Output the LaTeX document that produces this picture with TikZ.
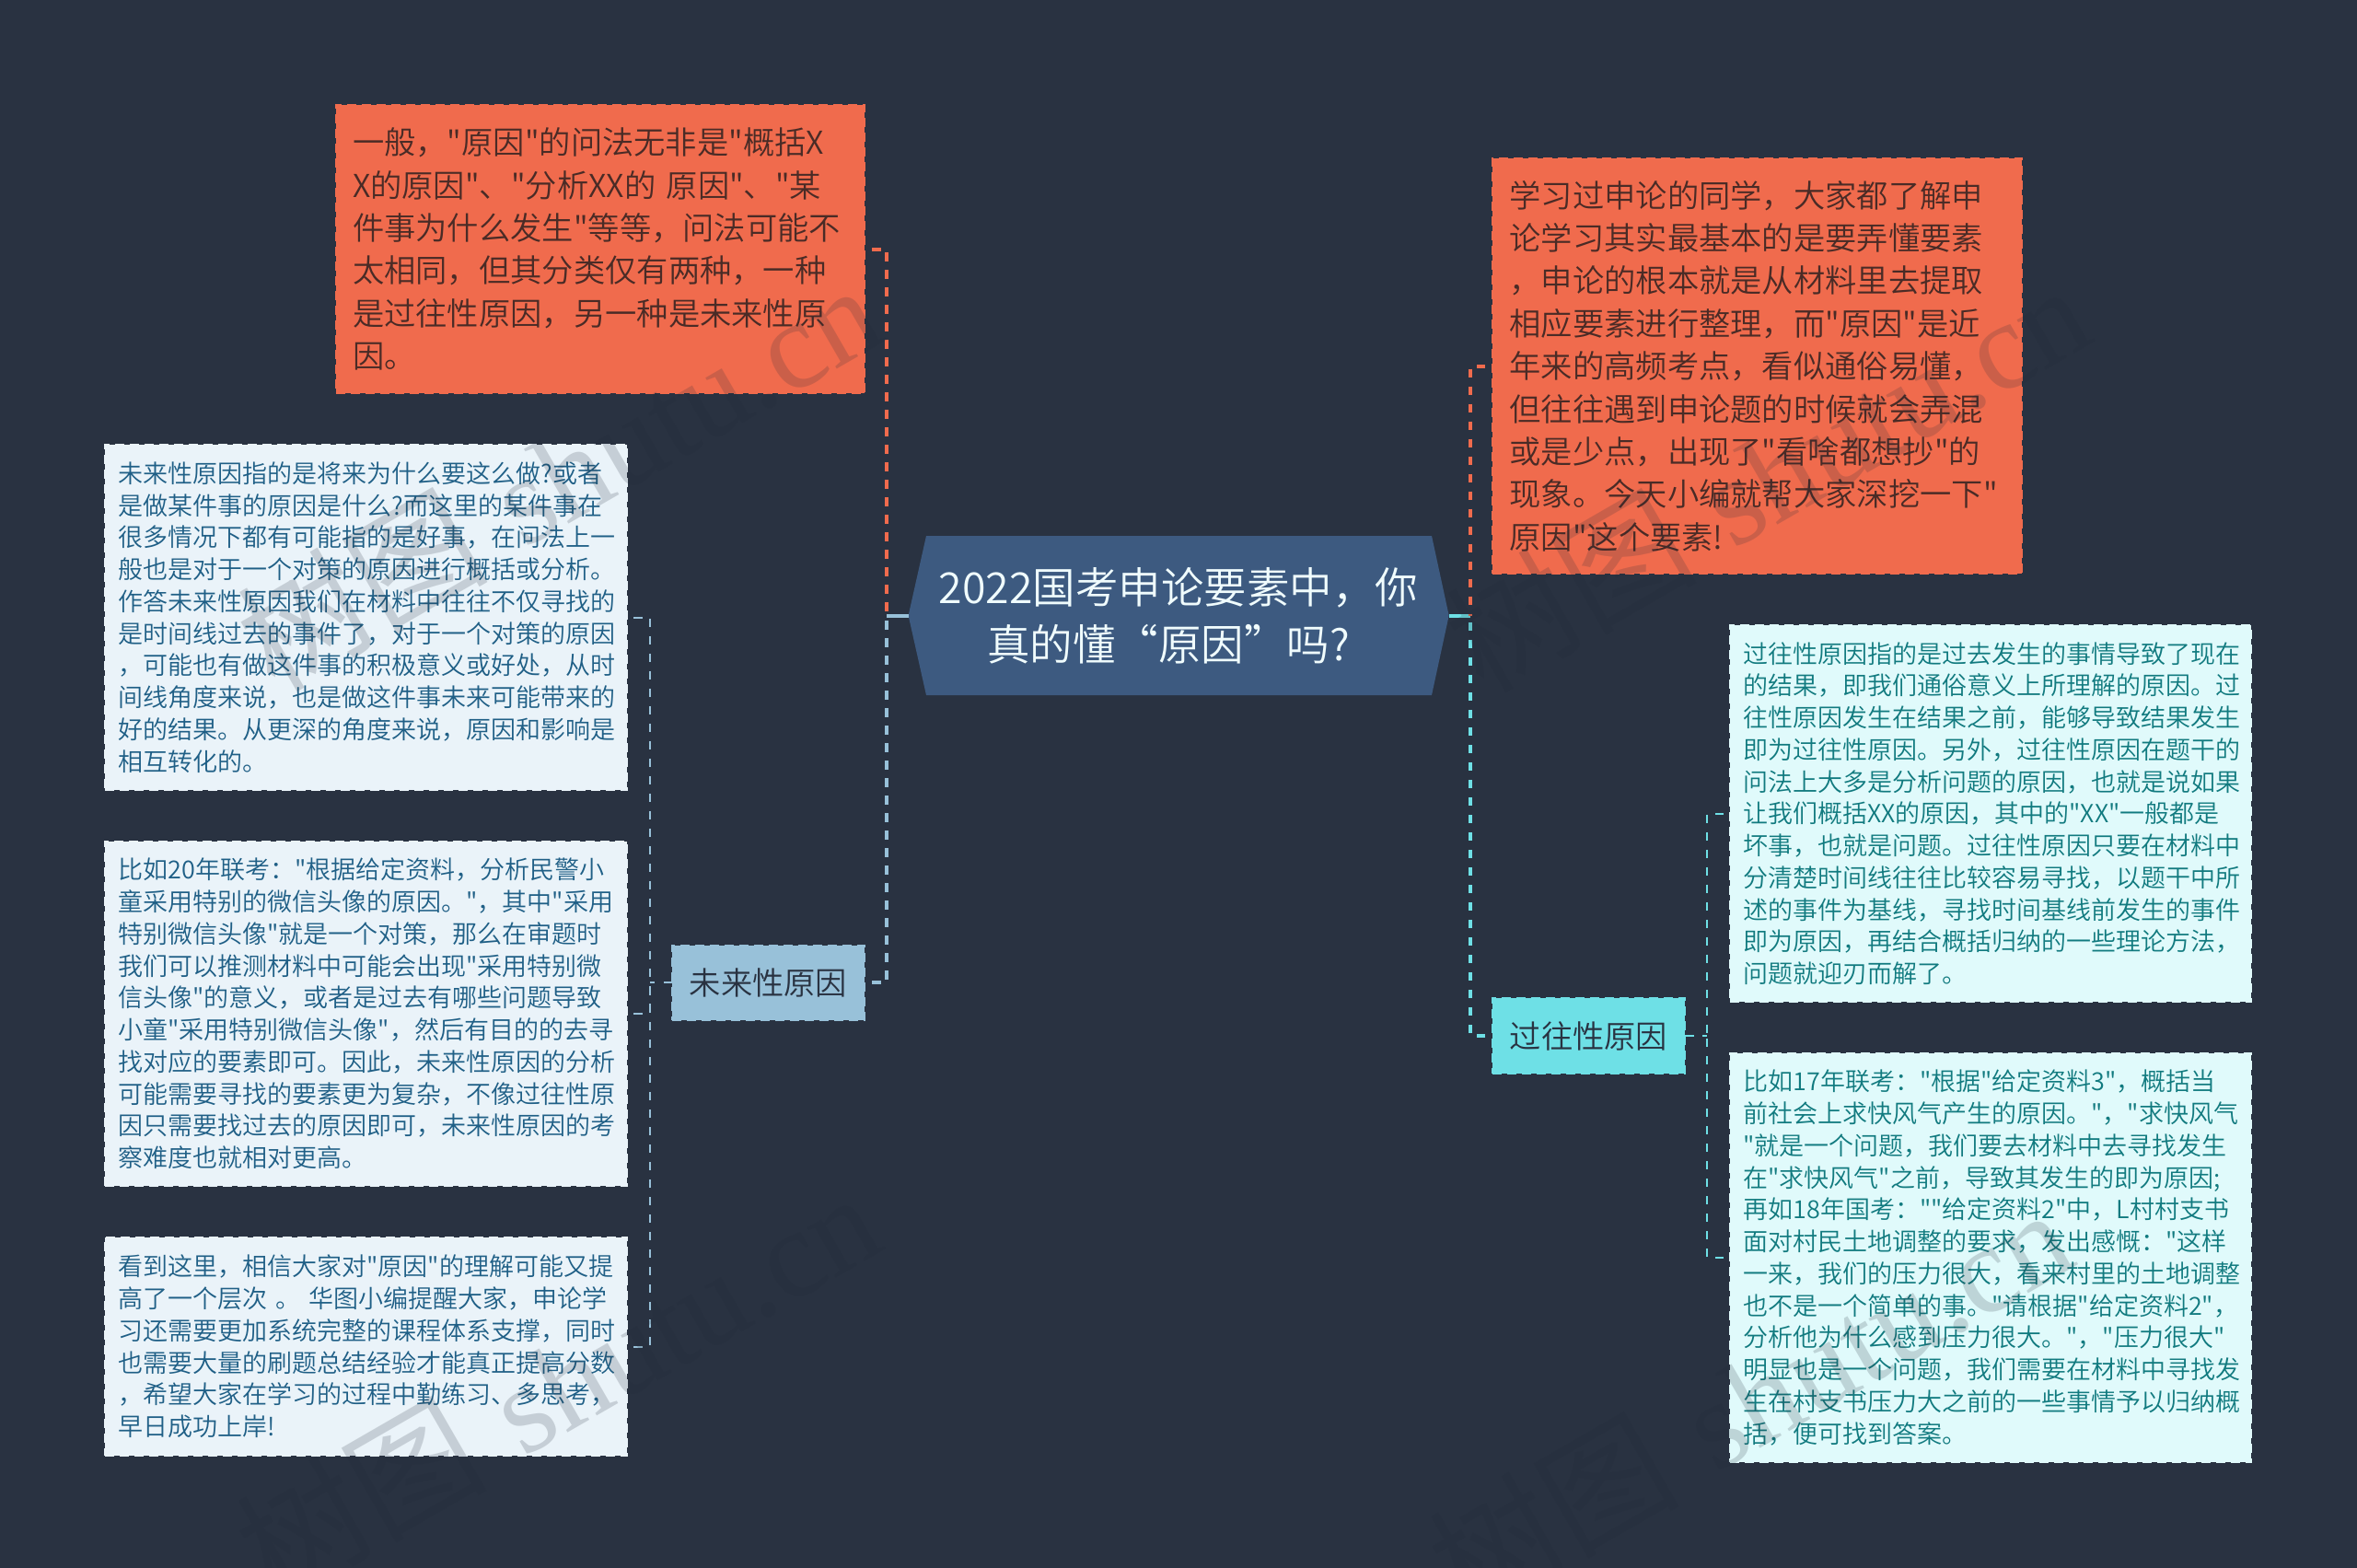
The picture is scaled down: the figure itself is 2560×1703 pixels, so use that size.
\documentclass[tikz,border=0pt]{standalone}
\usepackage{fontspec}
\newfontfamily\cjk{Noto Sans CJK SC DemiLight}
\newfontfamily\wmcjk{Noto Sans CJK SC}
\newfontfamily\wmlatin{Liberation Serif}
\definecolor{bgc}{HTML}{293241}
\definecolor{rootc}{HTML}{3D5A80}
\definecolor{orangec}{HTML}{F06B4D}
\definecolor{bluec}{HTML}{98C1D9}
\definecolor{cyanc}{HTML}{6EE0E6}
\definecolor{leafbc}{HTML}{EAF3F9}
\definecolor{leafcc}{HTML}{E0FAFB}
\definecolor{orangetxt}{HTML}{4A2B26}
\definecolor{bluetxt}{HTML}{1F5F86}
\definecolor{cyantxt}{HTML}{117A7F}
\definecolor{subtxt}{HTML}{293241}
\definecolor{roottxt}{HTML}{F0FCFD}
\definecolor{wmc}{HTML}{222A38}
\newcommand{\bodyfont}[2]{\cjk\fontsize{#1}{#2}\selectfont\lineskiplimit=-100pt\relax}
\tikzset{
  boxbase/.style={rectangle,draw,line width=2pt,dash pattern=on 10pt off 6pt,inner sep=0pt,outer sep=0pt,align=left},
  bigbox/.style={boxbase,fill=orangec,draw=orangec,text=orangetxt,font=\bodyfont{34.3}{46.4}},
  leafb/.style={boxbase,fill=leafbc,draw=leafbc,text=bluetxt,font=\bodyfont{27}{34.75}},
  leafc/.style={boxbase,fill=leafcc,draw=leafcc,text=cyantxt,font=\bodyfont{27}{34.75}},
  subb/.style={boxbase,fill=bluec,draw=bluec,text=subtxt,align=center,font=\bodyfont{34.3}{46.4}},
  subc/.style={boxbase,fill=cyanc,draw=cyanc,text=subtxt,align=center,font=\bodyfont{34.3}{46.4}},
  rootnode/.style={rectangle,inner sep=0pt,outer sep=0pt,align=center,text=roottxt,font=\bodyfont{46.5}{62}},
  mainline/.style={line width=4pt,dash pattern=on 9.5pt off 9.5pt,dash phase=11pt},
  rootstub/.style={line width=4pt},
  thinline/.style={line width=2pt,dash pattern=on 9.5pt off 9.5pt,dash phase=12pt},
  subline/.style={line width=2pt,dash pattern=on 9.5pt off 9.5pt},
  wmark/.style={inner sep=0pt,text=wmc,text opacity=0.18,rotate=30,font=\fontsize{136}{136}\selectfont},
}
\begin{document}
\begin{tikzpicture}[x=1pt,y=-1pt]
\useasboundingbox (0,0) rectangle (2560,1703);
\fill[bgc] (0,0) rectangle (2560,1703);

\coordinate (jl) at (962.5,668.5);
\coordinate (jr) at (1597,668.5);
\coordinate (jll) at (705.6,1067);
\coordinate (jrr) at (1854,1125);

\fill[rootc] (986.6,668.5) -- (1006,582) -- (1555,582) -- (1573.7,668.5) -- (1555,755) -- (1006,755) -- cycle;
\node[rootnode,minimum width=587pt,minimum height=173pt] (root) at (1280.15,668.5) {2022国考申论要素中，你\\真的懂“原因”吗?\hspace*{22pt}};

\node[bigbox,minimum width=574.5pt,minimum height=313pt,text width=537.5pt] (A) at (651.75,270.5) {一般，"原因"的问法无非是"概括X\\
X的原因"、"分析XX的~原因"、"某\\
件事为什么发生"等等，问法可能不\\
太相同，但其分类仅有两种，一种\\
是过往性原因，另一种是未来性原\\
因。};

\node[bigbox,minimum width=575pt,minimum height=451pt,text width=538pt] (B) at (1908.5,397.5) {学习过申论的同学，大家都了解申\\
论学习其实最基本的是要弄懂要素\\
，申论的根本就是从材料里去提取\\
相应要素进行整理，而"原因"是近\\
年来的高频考点，看似通俗易懂，\\
但往往遇到申论题的时候就会弄混\\
或是少点，出现了"看啥都想抄"的\\
现象。今天小编就帮大家深挖一下"\\
原因"这个要素!};

\node[leafb,minimum width=567pt,minimum height=375pt,text width=538pt] (E) at (397.5,670.5) {未来性原因指的是将来为什么要这么做?或者\\
是做某件事的原因是什么?而这里的某件事在\\
很多情况下都有可能指的是好事，在问法上一\\
般也是对于一个对策的原因进行概括或分析。\\
作答未来性原因我们在材料中往往不仅寻找的\\
是时间线过去的事件了，对于一个对策的原因\\
，可能也有做这件事的积极意义或好处，从时\\
间线角度来说，也是做这件事未来可能带来的\\
好的结果。从更深的角度来说，原因和影响是\\
相互转化的。};

\node[leafb,minimum width=567pt,minimum height=374pt,text width=538pt] (F) at (397.5,1101) {比如20年联考："根据给定资料，分析民警小\\
童采用特别的微信头像的原因。"，其中"采用\\
特别微信头像"就是一个对策，那么在审题时\\
我们可以推测材料中可能会出现"采用特别微\\
信头像"的意义，或者是过去有哪些问题导致\\
小童"采用特别微信头像"，然后有目的的去寻\\
找对应的要素即可。因此，未来性原因的分析\\
可能需要寻找的要素更为复杂，不像过往性原\\
因只需要找过去的原因即可，未来性原因的考\\
察难度也就相对更高。};

\node[leafb,minimum width=567pt,minimum height=237pt,text width=538pt] (G) at (397.5,1462.5) {看到这里，相信大家对"原因"的理解可能又提\\
高了一个层次~。~华图小编提醒大家，申论学\\
习还需要更加系统完整的课程体系支撑，同时\\
也需要大量的刷题总结经验才能真正提高分数\\
，希望大家在学习的过程中勤练习、多思考，\\
早日成功上岸!};

\node[leafc,minimum width=566pt,minimum height=409pt,text width=537pt] (C) at (2162,883.5) {过往性原因指的是过去发生的事情导致了现在\\
的结果，即我们通俗意义上所理解的原因。过\\
往性原因发生在结果之前，能够导致结果发生\\
即为过往性原因。另外，过往性原因在题干的\\
问法上大多是分析问题的原因，也就是说如果\\
让我们概括XX的原因，其中的"XX"一般都是\\
坏事，也就是问题。过往性原因只要在材料中\\
分清楚时间线往往比较容易寻找，以题干中所\\
述的事件为基线，寻找时间基线前发生的事件\\
即为原因，再结合概括归纳的一些理论方法，\\
问题就迎刃而解了。};

\node[leafc,minimum width=566pt,minimum height=444pt,text width=537pt] (D) at (2162,1366) {比如17年联考："根据"给定资料3"，概括当\\
前社会上求快风气产生的原因。"，"求快风气\\
"就是一个问题，我们要去材料中去寻找发生\\
在"求快风气"之前，导致其发生的即为原因;\\
再如18年国考：""给定资料2"中，L村村支书\\
面对村民土地调整的要求，发出感慨："这样\\
一来，我们的压力很大，看来村里的土地调整\\
也不是一个简单的事。"请根据"给定资料2"，\\
分析他为什么感到压力很大。"，"压力很大"\\
明显也是一个问题，我们需要在材料中寻找发\\
生在村支书压力大之前的一些事情予以归纳概\\
括，便可找到答案。};

\node[subb,minimum width=209pt,minimum height=81pt] (subL) at (834.5,1067) {未来性原因};
\node[subc,minimum width=209pt,minimum height=82pt] (subR) at (1725.5,1125) {过往性原因};

\draw[subline,bluec] (subL.west) -- (jll);
\draw[thinline,bluec] (E.east) -| (jll);
\draw[thinline,bluec] (F.east) -| (jll);
\draw[thinline,bluec] (G.east) -| (jll);
\draw[subline,cyanc] (subR.east) -- (jrr);
\draw[thinline,cyanc] (C.west) -| (jrr);
\draw[thinline,cyanc] (D.west) -| (jrr);

\draw[mainline,bluec] (subL.east) -| (jl);
\draw[rootstub,bluec] (root.west) -- (jl);
\draw[mainline,orangec] (A.east) -| (jl);
\draw[mainline,cyanc] (subR.west) -| (jr);
\draw[rootstub,cyanc] (root.east) -- (jr);
\draw[mainline,orangec] (B.west) -| (jr);

\node[wmark] (wm1) at (606,516) {{\wmcjk 树图}~{\wmlatin shutu.cn}};
\node[wmark] (wm2) at (605,1503) {{\wmcjk 树图}~{\wmlatin shutu.cn}};
\node[wmark] (wm3) at (1919,517) {{\wmcjk 树图}~{\wmlatin shutu.cn}};
\node[wmark] (wm4) at (1900,1520) {{\wmcjk 树图}~{\wmlatin shutu.cn}};
\end{tikzpicture}
\end{document}
